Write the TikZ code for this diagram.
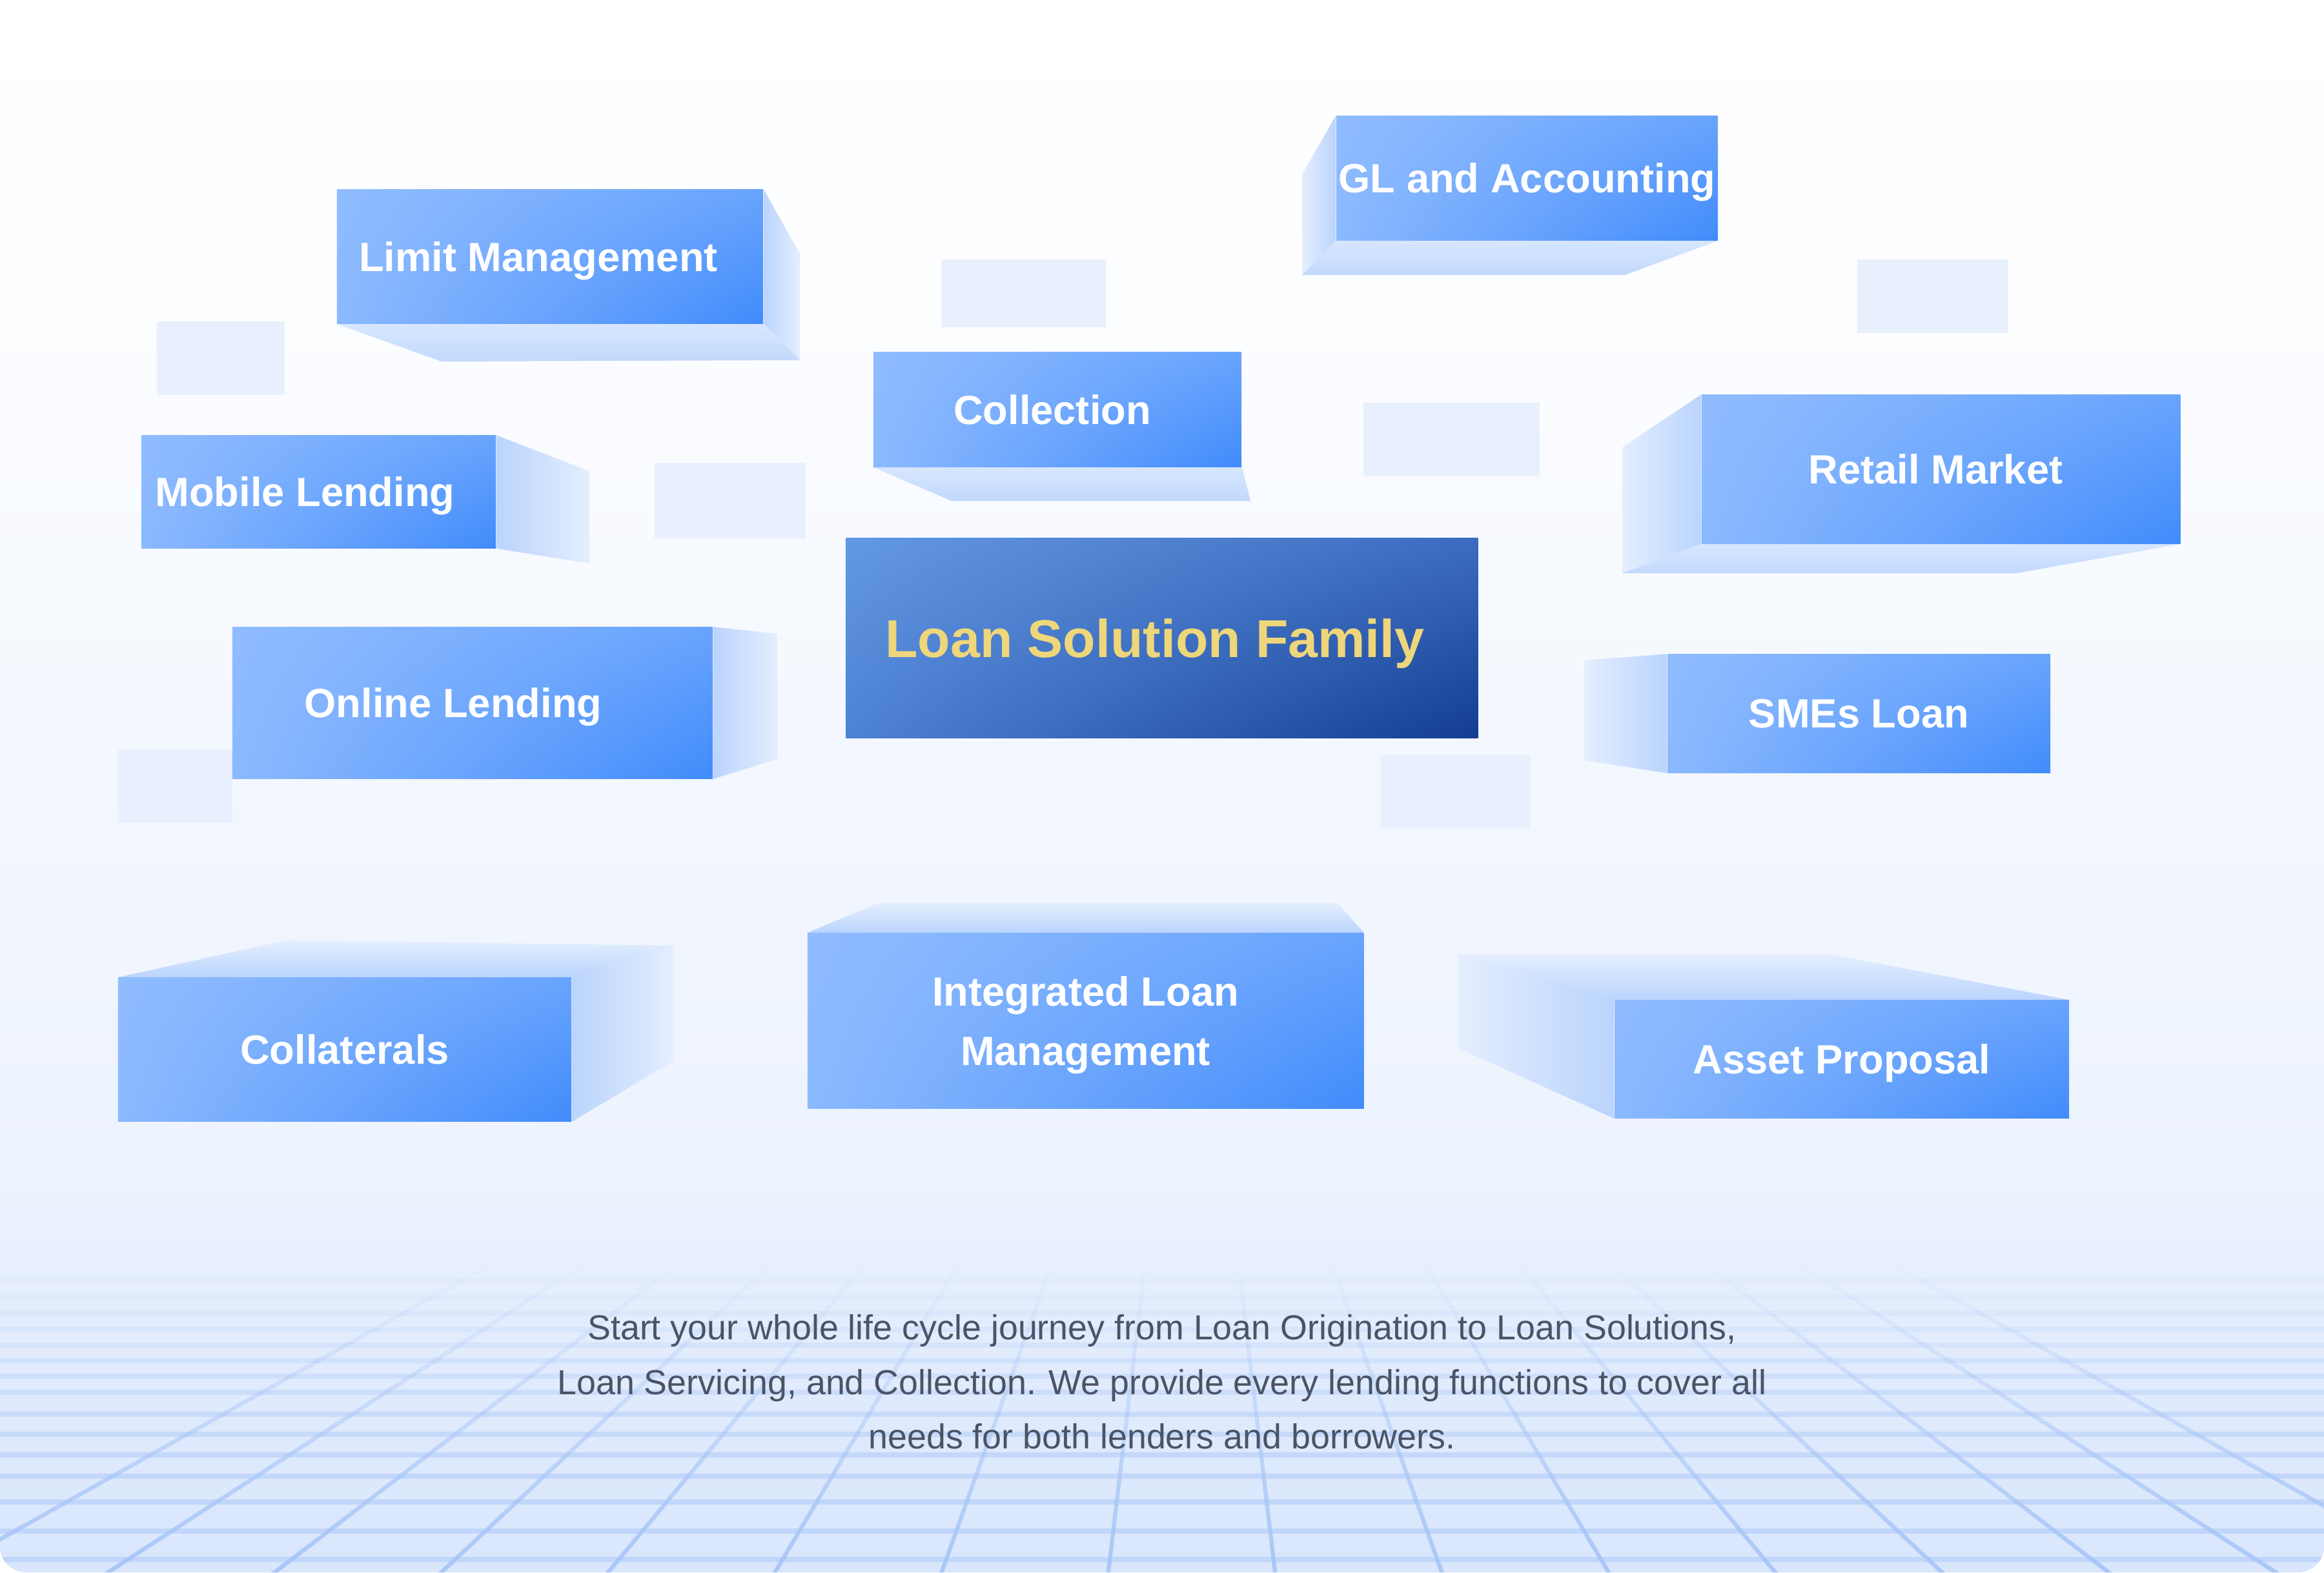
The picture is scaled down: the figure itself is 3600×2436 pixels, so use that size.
\documentclass[tikz,border=0pt]{standalone}
\usepackage{fontspec}
\setmainfont{Liberation Sans}
\usetikzlibrary{backgrounds, fadings, shadings}

\definecolor{faceA}{HTML}{90BCFF}
\definecolor{faceB}{HTML}{68A4FD}
\definecolor{faceC}{HTML}{8BB9FE}
\definecolor{faceD}{HTML}{418BFB}
\definecolor{hubA}{HTML}{6398E3}
\definecolor{hubB}{HTML}{3C6CC0}
\definecolor{hubC}{HTML}{4E82D4}
\definecolor{hubD}{HTML}{133D91}
\definecolor{sideA}{HTML}{BAD4FD}
\definecolor{sideB}{HTML}{E4EEFE}
\definecolor{tileC}{HTML}{E8F0FD}
\definecolor{gridH}{HTML}{C0D6FA}
\definecolor{gridV}{HTML}{A6C5F7}
\definecolor{goldC}{HTML}{EED67A}
\definecolor{noteC}{HTML}{4A5466}
\definecolor{skyB}{HTML}{D9E6FC}
\definecolor{skyG}{HTML}{E1EBFD}
\definecolor{skyM}{HTML}{EDF3FE}
\definecolor{skyA}{HTML}{F4F8FE}
\definecolor{skyT}{HTML}{FCFDFF}

\pgfdeclareverticalshading{skyfall}{100bp}{color(0bp)=(skyB); color(25bp)=(skyB); color(31.5bp)=(skyG); color(38bp)=(skyM); color(52.5bp)=(skyA); color(65bp)=(skyT); color(75bp)=(white); color(100bp)=(white)}

\begin{document}
\begin{tikzpicture}[
        x=0.01cm, y=-0.01cm,
        % Define Styles
        facebox/.style={rectangle, shade, upper left=faceA, upper right=faceB, lower left=faceC, lower right=faceD, text=white, text depth=0pt, inner sep=0pt, font=\fontsize{18}{26}\selectfont\bfseries},
        hubbox/.style={rectangle, shade, upper left=hubA, upper right=hubB, lower left=hubC, lower right=hubD, text=goldC, text depth=0pt, inner sep=0pt, font=\fontsize{23.5}{28}\selectfont\bfseries},
        nudge/.style={execute at begin node={\hspace*{#1}}},
        note/.style={align=center, text=noteC, font=\fontsize{15.3}{24}\selectfont},
        rside/.style={left color=sideA, right color=sideB},
        lside/.style={left color=sideB, right color=sideA},
        bside/.style={top color=sideB!70!sideA, bottom color=sideA!80!sideB},
        tside/.style={top color=sideB, bottom color=sideA},
        tile/.style={fill=tileC}
    ]
    \useasboundingbox (0,0) rectangle (3600,2436);

    % --- FRONT FACES ---
    \node[facebox, nudge=-0.36cm, minimum width=6.60cm, minimum height=2.07cm] (lim) at (852,397.5) {Limit Management};
    \node[facebox, nudge=-0.42cm, minimum width=5.49cm, minimum height=1.74cm] (mob) at (493.5,762) {Mobile Lending};
    \node[facebox, minimum width=5.91cm, minimum height=1.92cm] (gl) at (2365.5,276) {GL and Accounting};
    \node[facebox, nudge=-0.16cm, minimum width=5.70cm, minimum height=1.77cm] (col) at (1638,634.5) {Collection};
    \node[facebox, nudge=-0.16cm, minimum width=7.41cm, minimum height=2.30cm] (ret) at (3006.5,727) {Retail Market};
    \node[facebox, nudge=-0.60cm, minimum width=7.44cm, minimum height=2.34cm] (onl) at (732,1089) {Online Lending};
    \node[facebox, minimum width=5.93cm, minimum height=1.83cm] (sme) at (2879.5,1105.5) {SMEs Loan};
    \node[facebox, minimum width=7.02cm, minimum height=2.22cm] (clt) at (534,1626) {Collaterals};
    \node[facebox, align=center, minimum width=8.61cm, minimum height=2.71cm] (ilm) at (1681.5,1581.5) {Integrated Loan\\Management};
    \node[facebox, minimum width=7.04cm, minimum height=1.82cm] (ast) at (2853,1641) {Asset Proposal};

    \node[hubbox, nudge=-0.22cm, minimum width=9.78cm, minimum height=3.09cm] (hub) at (1800,988.5) {Loan Solution Family};

    \node[note] (blurb) at (1800,2141) {Start your whole life cycle journey from Loan Origination to Loan Solutions,\\ Loan Servicing, and Collection. We provide every lending functions to cover all\\ needs for both lenders and borrowers.};

    \begin{scope}[on background layer]
        % --- BACKDROP ---
        \shade[shading=skyfall, rounded corners=0.4cm] (0,0) rectangle (3600,2436);

        % --- FLOOR GRID ---
        \begin{scope}
            \clip[rounded corners=0.4cm] (0,0) rectangle (3600,2436);
            \foreach \gy/\go in {1985/0.10, 2010/0.16, 2035/0.22, 2060/0.3, 2084/0.38, 2108/0.46, 2132/0.54, 2157/0.62, 2191/0.7, 2222/0.78, 2254/0.85, 2287/0.9, 2327/0.95, 2372/1, 2416/1}
                \draw[gridH, line width=2.2pt, opacity=\go] (0,\gy) -- (3600,\gy);
            \foreach \k in {-1,...,14}
                \draw[gridV, line width=1.8pt, path fading=north] ({130+264*\k},2460) -- ({130+264*\k+(1846-130-264*\k)*0.45},1960);
        \end{scope}

        % --- LOOSE TILES ---
        \fill[tile] (243,498) rectangle (441,612);
        \fill[tile] (1014,717) rectangle (1248,834);
        \fill[tile] (1458,402) rectangle (1713,507);
        \fill[tile] (2877,402) rectangle (3111,516);
        \fill[tile] (2112,624) rectangle (2385,738);
        \fill[tile] (183,1161) rectangle (360,1275);
        \fill[tile] (2139,1170) rectangle (2370,1284);

        % --- SIDE FACES ---
        \shade[rside] (lim.north east) -- (1239,393) -- (1239,558) -- (lim.south east) -- cycle;
        \shade[bside] (lim.south west) -- (684,560) -- (1239,558) -- (lim.south east) -- cycle;
        \shade[rside] (mob.north east) -- (913,730) -- (913,873) -- (mob.south east) -- cycle;
        \shade[lside] (gl.north west) -- (2017,270) -- (2017,426) -- (gl.south west) -- cycle;
        \shade[bside] (gl.south west) -- (2017,426) -- (2517,426) -- (gl.south east) -- cycle;
        \shade[bside] (col.south west) -- (1474,776) -- (1937,776) -- (col.south east) -- cycle;
        \shade[lside] (ret.north west) -- (2513,693) -- (2513,888) -- (ret.south west) -- cycle;
        \shade[bside] (ret.south west) -- (2513,888) -- (3124,888) -- (ret.south east) -- cycle;
        \shade[rside] (onl.north east) -- (1204,982) -- (1204,1176) -- (onl.south east) -- cycle;
        \shade[lside] (sme.north west) -- (2454,1023) -- (2454,1178) -- (sme.south west) -- cycle;
        \shade[tside] (clt.north west) -- (443,1457) -- (1043,1465) -- (clt.north east) -- cycle;
        \shade[rside] (clt.north east) -- (1043,1465) -- (1043,1644) -- (clt.south east) -- cycle;
        \shade[tside] (ilm.north west) -- (1361,1399) -- (2072,1399) -- (ilm.north east) -- cycle;
        \shade[lside] (ast.north west) -- (2259,1479) -- (2259,1624) -- (ast.south west) -- cycle;
        \shade[tside] (ast.north west) -- (2259,1479) -- (2838,1479) -- (ast.north east) -- cycle;
    \end{scope}

\end{tikzpicture}
\end{document}
